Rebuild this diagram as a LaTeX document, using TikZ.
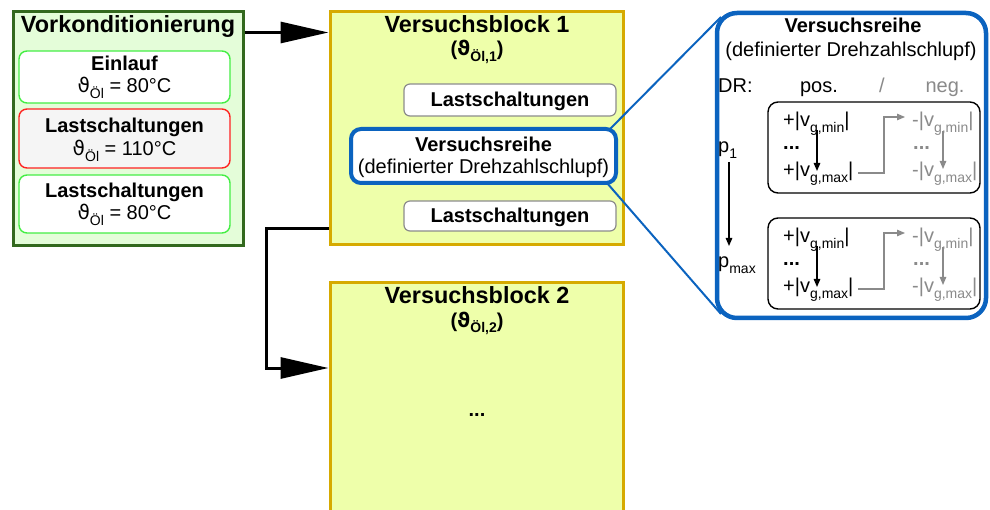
\documentclass[tikz,border=0pt]{standalone}
\usepackage{fontspec}
\setmainfont{Liberation Sans}
\newfontfamily\thetafont{DejaVu Sans}
\usetikzlibrary{arrows.meta}

\definecolor{vkfill}{HTML}{E4FDD9}
\definecolor{vkline}{HTML}{33691E}
\definecolor{okline}{HTML}{44EE44}
\definecolor{hotline}{HTML}{FF2222}
\definecolor{hotfill}{HTML}{F5F5F5}
\definecolor{vbfill}{HTML}{EEFFAA}
\definecolor{vbline}{HTML}{D6AA00}
\definecolor{lsline}{HTML}{8C8C8C}
\definecolor{vrblue}{HTML}{0B63BF}
\definecolor{dimgray}{HTML}{8A8A8A}

\newcommand\fsz[1]{\fontsize{#1}{#1}\selectfont}
\newcommand\sbs[1]{\raisebox{-0.28em}{\fsz{14}#1}}
\newcommand\thOel[1]{{\thetafont ϑ}\sbs{Öl#1}}
\newcommand\vabs[2]{#1|v\sbs{g,#2}|}

\begin{document}
\begin{tikzpicture}[x=1pt,y=-1pt,
  txt/.style={anchor=base,inner sep=0pt,font=\fsz{20}},
  txtw/.style={anchor=base west,inner sep=0pt,font=\fsz{20}},
  bigtitle/.style={anchor=base,inner sep=0pt,font=\fsz{23.4}\bfseries},
  vkbox/.style={draw=vkline,fill=vkfill,line width=3pt},
  okbox/.style={draw=okline,fill=white,line width=1.4pt,rounded corners=8pt},
  hotbox/.style={draw=hotline,fill=hotfill,line width=1.4pt,rounded corners=8pt},
  vbbox/.style={draw=vbline,fill=vbfill,line width=3pt},
  lsbox/.style={draw=lsline,fill=white,line width=1.2pt,rounded corners=6pt},
  vrbox/.style={draw=vrblue,fill=white,line width=4pt,rounded corners=10pt},
  panel/.style={draw=vrblue,fill=white,line width=4.5pt,rounded corners=20pt},
  seqbox/.style={draw=black,fill=white,line width=1.4pt,rounded corners=10pt},
  bigarrow/.style={line width=3pt,-{Triangle[length=48pt,width=21pt]}},
  thinarrow/.style={line width=1.3pt,-{Triangle[length=8pt,width=6.5pt]}},
  grayarrow/.style={thinarrow,draw=dimgray,line width=1.1pt},
  zoomline/.style={draw=vrblue,line width=2pt}]
\useasboundingbox (0,0) rectangle (990,510);

% ---------- preconditioning ----------
\node[vkbox,minimum width=230pt,minimum height=234pt,inner sep=0pt] (vk) at (128,129) {};
\node[bigtitle] (vkt) at (128,33) {Vorkonditionierung};

\node[okbox,minimum width=211pt,minimum height=52pt,inner sep=0pt] (ein) at (124.5,77) {};
\node[txt,font=\fsz{20}\bfseries] (eint) at (124.5,71) {Einlauf};
\node[txt] (eintemp) at (124.5,93) {\thOel{} = 80°C};

\node[hotbox,minimum width=211pt,minimum height=59pt,inner sep=0pt] (ls1) at (124.5,138.5) {};
\node[txt,font=\fsz{20}\bfseries] (ls1t) at (124.5,133) {Lastschaltungen};
\node[txt] (ls1temp) at (124.5,156) {\thOel{} = 110°C};

\node[okbox,minimum width=211pt,minimum height=58pt,inner sep=0pt] (ls2) at (124.5,204) {};
\node[txt,font=\fsz{20}\bfseries] (ls2t) at (124.5,198) {Lastschaltungen};
\node[txt] (ls2temp) at (124.5,220) {\thOel{} = 80°C};

% ---------- test block 1 ----------
\node[vbbox,minimum width=293pt,minimum height=233pt,inner sep=0pt] (vb1) at (476.5,128.5) {};
\node[bigtitle] (vb1t) at (477,33) {Versuchsblock 1};
\node[txt,font=\fsz{20}\bfseries] (vb1th) at (477,56) {(\thOel{,1})};

\node[lsbox,minimum width=212pt,minimum height=32pt,inner sep=0pt] (lsa) at (510,100) {};
\node[txt,font=\fsz{20}\bfseries] (lsat) at (510,107) {Lastschaltungen};

\node[lsbox,minimum width=212pt,minimum height=30pt,inner sep=0pt] (lsb) at (510,216) {};
\node[txt,font=\fsz{20}\bfseries] (lsbt) at (510,223) {Lastschaltungen};

% zoom lines towards the detail panel
\coordinate (panelNW) at (721,17);
\coordinate (panelSW) at (721,314);
\coordinate (vrNE) at (609,130);
\coordinate (vrSE) at (607,183);
\draw[zoomline] (vrNE) -- (panelNW);
\draw[zoomline] (vrSE) -- (panelSW);

\node[vrbox,minimum width=265pt,minimum height=54pt,inner sep=0pt] (vr) at (483.5,156) {};
\node[txt,font=\fsz{20}\bfseries] (vrt) at (483.5,152) {Versuchsreihe};
\node[txt] (vrs) at (483.5,174) {(definierter Drehzahlschlupf)};

% ---------- test block 2 ----------
\node[vbbox,minimum width=293pt,minimum height=233pt,inner sep=0pt,anchor=north] (vb2) at (476.5,281) {};
\node[bigtitle] (vb2t) at (477,304) {Versuchsblock 2};
\node[txt,font=\fsz{20}\bfseries] (vb2th) at (477,327) {(\thOel{,2})};
\node[txt,font=\fsz{20}\bfseries] (vb2dots) at (477,416) {...};

% ---------- flow arrows ----------
\draw[bigarrow] ([yshift=-22pt]vk.north east) -- ([yshift=-22pt]vb1.north west);
\draw[bigarrow] ([yshift=18pt]vb1.south west) -- ++(-62,0) |- ([yshift=-87pt]vb2.north west);

% ---------- detail panel ----------
\node[panel,minimum width=269pt,minimum height=305pt,inner sep=0pt] (pan) at (851.5,165.5) {};
\node[txt,font=\fsz{20}\bfseries] (pant) at (853,33) {Versuchsreihe};
\node[txt] (pans) at (851,57) {(definierter Drehzahlschlupf)};
\node[txtw] (dr) at (718,93) {DR:};
\node[txt] (pos) at (819,93) {pos.};
\node[txt,text=dimgray] (slash) at (882,93) {/};
\node[txt,text=dimgray] (neg) at (945,93) {neg.};

\node[txtw] (p1) at (718,153) {p\sbs{1}};
\node[txtw] (pmax) at (718,268) {p\sbs{max}};
\coordinate (pa) at (729,162);
\coordinate (pb) at (729,246);
\draw[thinarrow] (pa) -- (pb);

\foreach \k/\dy in {1/0,2/116}{
  \begin{scope}[yshift=-\dy pt]
    \node[seqbox,minimum width=212pt,minimum height=91pt,inner sep=0pt] (sq\k) at (874,147.5) {};
    \node[txtw] (pmin\k) at (783,127) {\vabs{+}{min}};
    \node[txtw,font=\fsz{20}\bfseries] (pdots\k) at (783,150) {...};
    \node[txtw] (pmx\k) at (783,177) {\vabs{+}{max}};
    \node[txtw,text=dimgray] (nmin\k) at (912,127) {\vabs{-}{min}};
    \node[txtw,text=dimgray,font=\fsz{20}\bfseries] (ndots\k) at (913,150) {...};
    \node[txtw,text=dimgray] (nmx\k) at (912,177) {\vabs{-}{max}};
    \coordinate (ba\k) at (817,130);
    \coordinate (bb\k) at (817,171);
    \coordinate (ga\k) at (858,173);
    \coordinate (gb\k) at (905,117);
    \coordinate (gc\k) at (943,131);
    \coordinate (gd\k) at (943,169);
    \draw[thinarrow] (ba\k) -- (bb\k);
    \draw[grayarrow] (ga\k) -- ++(26,0) |- (gb\k);
    \draw[grayarrow] (gc\k) -- (gd\k);
  \end{scope}
}
\end{tikzpicture}
\end{document}
